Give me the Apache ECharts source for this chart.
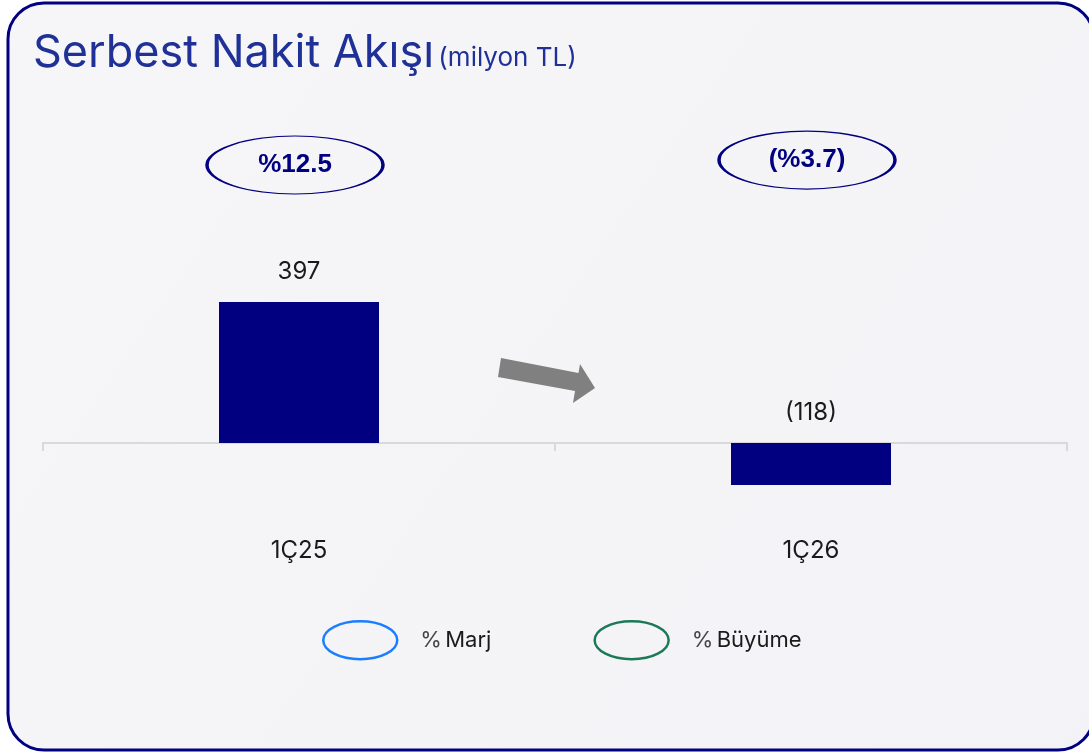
<!DOCTYPE html>
<html>
<head>
<meta charset="utf-8">
<script src="https://cdn.jsdelivr.net/npm/echarts@6/dist/echarts.min.js"></script>
<style>
html,body{margin:0;padding:0;background:#ffffff;}
#c{width:1089px;height:755px;}
</style>
</head>
<body>
<div id="c"></div>
<script>
const categories = ['1Ç25', '1Ç26'];
const cashFlow = [397, -118];
const marginLabels = ['%12.5', '(%3.7)'];
const legendNames = ['% Marj', '% Büyüme'];

const NAVY = '#000080';
const ELLIPSE_LEVEL = [783, 797];
const ELLIPSE_ICON = 'path://M1,19A36,18,0,1,1,73,19A36,18,0,1,1,1,19Z';

const chart = echarts.init(document.getElementById('c'));
const option = {
  backgroundColor: 'transparent',
  animation: false,
  textStyle: { fontFamily: 'Inter' },
  graphic: [
    {
      type: 'rect', z: -10, silent: true,
      shape: { x: 8, y: 3, width: 1086, height: 747, r: 36 },
      style: {
        fill: new echarts.graphic.LinearGradient(0, 0, 1, 1, [
          { offset: 0, color: '#f6f6f8' }, { offset: 1, color: '#f3f3f7' }
        ]),
        stroke: NAVY, lineWidth: 3
      }
    },
    {
      type: 'polygon', silent: true,
      shape: { points: [[501,358],[578.5,373],[580,364],[595,388],[573,403],[575,391],[498,377]] },
      style: { fill: '#808080' }
    }
  ],
  title: {
    left: 28, top: 26,
    text: '{a|Serbest Nakit Akışı} {b|(milyon TL)}',
    textStyle: {
      rich: {
        a: { fontFamily: 'Inter', fontSize: 45, color: '#1f3196', fontWeight: 'normal' },
        b: { fontFamily: 'Inter', fontSize: 26, color: '#1f3196', fontWeight: 'normal', padding: [10, 0, 0, 0] }
      }
    }
  },
  legend: {
    left: 317, top: 615,
    itemWidth: 74, itemHeight: 38, itemGap: 102,
    symbolKeepAspect: false,
    data: [
      { name: legendNames[0], icon: ELLIPSE_ICON, itemStyle: { color: 'transparent', borderColor: '#1a7fff', borderWidth: 2.5, opacity: 1 } },
      { name: legendNames[1], icon: ELLIPSE_ICON, itemStyle: { color: 'transparent', borderColor: '#1a7a55', borderWidth: 2.5, opacity: 1 } }
    ],
    formatter: function (name) {
      const p = name.split(' ');
      return '{p|' + p[0] + '} {n|' + p.slice(1).join(' ') + '}';
    },
    textStyle: {
      padding: [0, 0, 0, 18],
      rich: {
        p: { fontFamily: 'Inter', fontSize: 22, color: '#444444' },
        n: { fontFamily: 'Inter', fontSize: 22, color: '#1a1a1a' }
      }
    }
  },
  grid: { left: 43, right: 22, top: 88, bottom: 225, containLabel: false },
  xAxis: {
    type: 'category', data: categories,
    axisLine: { onZero: true, lineStyle: { color: '#d9d9d9', width: 2 } },
    axisTick: { show: true, length: 8, lineStyle: { color: '#d9d9d9', width: 2 } },
    axisLabel: { margin: 9, fontFamily: 'Inter', fontSize: 24, color: '#1a1a1a' }
  },
  yAxis: {
    type: 'value', min: -245, max: 1000, show: false,
    splitLine: { show: false }
  },
  series: [
    {
      type: 'bar', data: cashFlow, barWidth: 160,
      itemStyle: { color: NAVY },
      label: {
        show: true, position: 'top', distance: 18,
        fontFamily: 'Inter', fontSize: 24, color: '#1a1a1a',
        formatter: function (p) { return p.value < 0 ? '(' + Math.abs(p.value) + ')' : String(p.value); }
      }
    },
    {
      type: 'scatter', name: 'ellipses', silent: true,
      data: marginLabels.map(function (t, i) { return { value: [categories[i], ELLIPSE_LEVEL[i]], label: { formatter: t } }; }),
      symbol: 'circle', symbolSize: [176, 58],
      symbolOffset: [-4, 0],
      itemStyle: { color: 'transparent', borderColor: NAVY, borderWidth: 2, opacity: 1 },
      label: { show: true, position: 'inside', fontFamily: 'Liberation Sans', fontSize: 26, fontWeight: 'bold', color: NAVY }
    },
    { type: 'scatter', name: legendNames[0], data: [], itemStyle: { opacity: 1 } },
    { type: 'scatter', name: legendNames[1], data: [], itemStyle: { opacity: 1 } }
  ]
};
chart.setOption(option);
</script>
</body>
</html>
